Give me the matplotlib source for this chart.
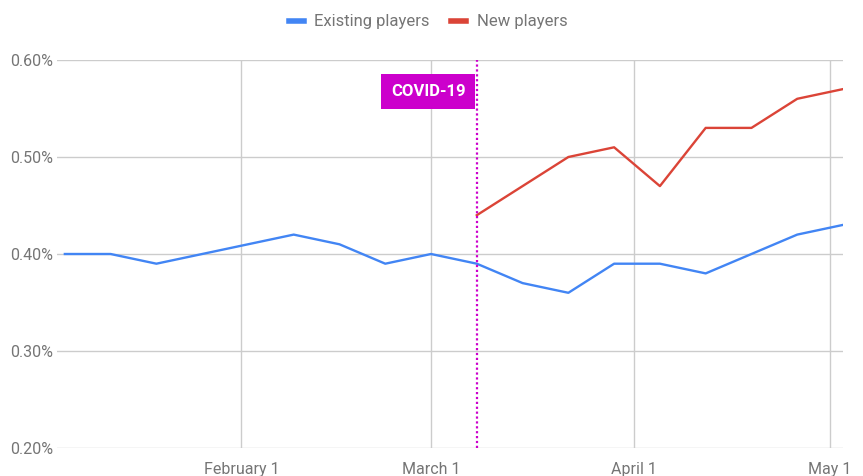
import numpy as np
import matplotlib.pyplot as plt
import matplotlib.dates as mdates
import pandas as pd

plt.rcParams['font.family'] = ['Roboto', 'DejaVu Sans']

# weekly data points, 2020
weeks = pd.date_range('2020-01-05', '2020-05-03', freq='7D')
existing = [0.40, 0.40, 0.39, 0.40, 0.41, 0.42, 0.41, 0.39, 0.40,
            0.39, 0.37, 0.36, 0.39, 0.39, 0.38, 0.40, 0.42, 0.43]
new_weeks = weeks[9:]
new = [0.44, 0.47, 0.50, 0.51, 0.47, 0.53, 0.53, 0.56, 0.57]

covid_date = pd.Timestamp('2020-03-08')
month_ticks = pd.to_datetime(['2020-02-01', '2020-03-01', '2020-04-01', '2020-05-01'])
month_labels = ['February 1', 'March 1', 'April 1', 'May 1']
y_ticks = [0.2, 0.3, 0.4, 0.5, 0.6]

grey = '#757575'
grid = '#cccccc'

fig = plt.figure(figsize=(8.63, 4.76), dpi=100)
ax = fig.add_axes([57 / 863, 1 - 448 / 476, (843 - 57) / 863, (448 - 60) / 476])

ax.plot(weeks, existing, color='#4285f4', lw=1.7, label='Existing players', zorder=3)
ax.plot(new_weeks, new, color='#db4437', lw=1.7, label='New players', zorder=3)

ax.axvline(covid_date, color='#cc00cc', lw=1.6, ls=(0, (1, 1.2)), zorder=4)
ax.annotate('COVID-19', xy=(covid_date, 0.568), xytext=(-8.2, 0),
            textcoords='offset points', color='white',
            fontsize=12, fontweight='bold', ha='right', va='center', zorder=5,
            bbox=dict(boxstyle='square,pad=0.6', fc='#cc00cc', ec='none'))

ax.set_xlim(pd.Timestamp('2020-01-05') - pd.Timedelta(days=1.2), pd.Timestamp('2020-05-03'))
ax.set_ylim(0.2, 0.6)
ax.set_xticks(month_ticks)
ax.set_xticklabels(month_labels)
ax.set_yticks(y_ticks)
ax.set_yticklabels(['%.2f%%' % v for v in y_ticks])

ax.grid(True, color=grid, lw=1)
ax.set_axisbelow(True)
for s in ax.spines.values():
    s.set_visible(False)
ax.tick_params(length=0, colors=grey, labelsize=11.5)
ax.tick_params(axis='y', pad=3)
ax.tick_params(axis='x', pad=10)

ax.legend(loc='center', bbox_to_anchor=(0.472, 1.10), ncol=2, frameon=False,
          fontsize=12, labelcolor=grey, handlelength=0.9, handleheight=0.3,
          columnspacing=1.25, handletextpad=0.65)
leg = ax.get_legend()
for h in leg.legend_handles:
    h.set_linewidth(4)

fig.savefig('out.png', dpi=100)
